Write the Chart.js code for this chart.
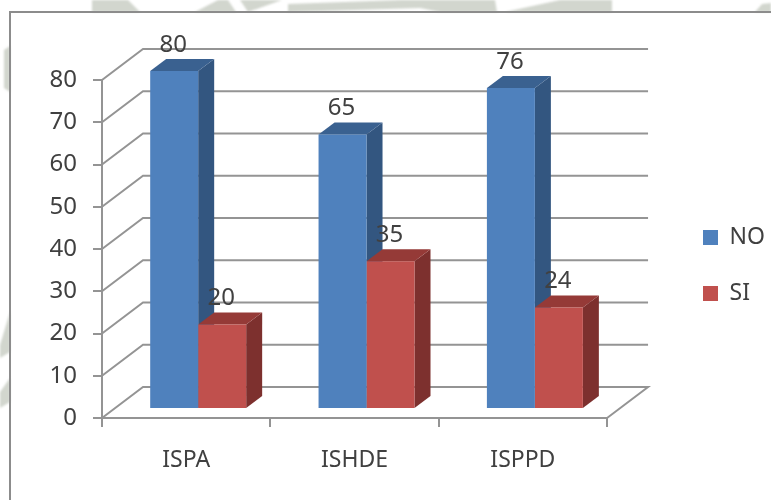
<!DOCTYPE html>
<html>
<head>
<meta charset="utf-8">
<script src="https://cdn.jsdelivr.net/npm/chart.js@4"></script>
<style>
  html, body { margin: 0; padding: 0; background: #fff; overflow: hidden; }
  #wrap { position: relative; width: 771px; height: 500px; }
  #paper { position: absolute; left: 0; top: 0; }
  #paper g { filter: blur(1px); }
  #holder { position: absolute; left: 0; top: 0; width: 771px; height: 500px; filter: blur(0.45px); }
</style>
</head>
<body>
<div id="wrap">
  <!-- faded watermark and frame of the scanned page -->
  <svg id="paper" width="771" height="500">
    <g fill="#d2d6ce">
      <polygon points="92,0 128,0 140,12 92,12"/>
      <polygon points="195,12 218,0 228,0 236,12"/>
      <polygon points="240,0 282,0 248,12"/>
      <polygon points="288,4 400,0 495,0 497,12 440,12 420,8 288,12"/>
      <polygon points="505,12 560,0 612,0 612,12"/>
      <polygon points="755,12 762,4 771,3 771,12"/>
      <polygon points="4,50 10,46 10,92 4,88"/>
      <polygon points="0,345 10,312 10,352 0,358"/>
      <polygon points="0,392 10,378 10,402 0,408"/>
    </g>
    <path d="M10 500 V12 H771" fill="none" stroke="#8c8c8c" stroke-width="2"/>
  </svg>
  <div id="holder"><canvas id="myChart" width="771" height="500"></canvas></div>
</div>
<script>
const categories = ["ISPA", "ISHDE", "ISPPD"];
const noValues = [80, 65, 76];
const siValues = [20, 35, 24];
const yTicks = [0, 10, 20, 30, 40, 50, 60, 70, 80];

const frontColors = ["#4f81bd", "#c0504d"];
const topColors = ["#3a6190", "#953a37"];
const sideColors = ["#335680", "#7d302e"];
const axisColor = "#949494";
const textColor = "#404040";

// 3d look: wall depth and how far the bars sit behind the front plane
const wallDx = 41, wallDy = -31;
const barDx = 12, barDy = -9;
const depthDx = 16, depthDy = -12;

const wall3d = {
  id: "wall3d",
  afterLayout(chart) {
    // move the legend to where the reference has it
    const lg = chart.legend;
    lg.left = 670;
    lg.right = 771;
    lg.top = 193;
    lg.bottom = 500;
  },
  beforeDatasetsDraw(chart) {
    const { ctx, scales: { x, y } } = chart;
    ctx.save();
    ctx.strokeStyle = axisColor;
    ctx.lineWidth = 2;
    yTicks.forEach((t) => {
      const py = y.getPixelForValue(t);
      ctx.beginPath();
      ctx.moveTo(x.left, py);
      ctx.lineTo(x.left + wallDx, py + wallDy);
      ctx.lineTo(x.right + wallDx, py + wallDy);
      if (t === 0) ctx.lineTo(x.right, py);
      ctx.stroke();
    });
    // depth faces go under every front face
    chart.data.datasets.forEach((ds, i) => {
      chart.getDatasetMeta(i).data.forEach((bar) => {
        const l = bar.x - bar.width / 2 + barDx;
        const r = bar.x + bar.width / 2 + barDx;
        const t = bar.y + barDy;
        const b = bar.base + barDy;
        ctx.fillStyle = sideColors[i];
        ctx.beginPath();
        ctx.moveTo(r, t);
        ctx.lineTo(r + depthDx, t + depthDy);
        ctx.lineTo(r + depthDx, b + depthDy);
        ctx.lineTo(r, b);
        ctx.closePath();
        ctx.fill();
        ctx.fillStyle = topColors[i];
        ctx.beginPath();
        ctx.moveTo(l, t);
        ctx.lineTo(l + depthDx, t + depthDy);
        ctx.lineTo(r + depthDx, t + depthDy);
        ctx.lineTo(r, t);
        ctx.closePath();
        ctx.fill();
      });
    });
    ctx.restore();
  },
  beforeDatasetDraw(chart) {
    chart.ctx.save();
    chart.ctx.translate(barDx, barDy);
  },
  afterDatasetDraw(chart) {
    chart.ctx.restore();
  },
  afterDatasetsDraw(chart) {
    const ctx = chart.ctx;
    ctx.save();
    ctx.font = "24px 'Noto Sans'";
    ctx.fillStyle = textColor;
    ctx.textAlign = "center";
    ctx.textBaseline = "middle";
    chart.data.datasets.forEach((ds, i) => {
      chart.getDatasetMeta(i).data.forEach((bar, j) => {
        ctx.fillText(ds.data[j], bar.x + barDx - 1, bar.y + barDy - 26);
      });
    });
    ctx.restore();
  },
};

new Chart(document.getElementById("myChart").getContext("2d"), {
  type: "bar",
  data: {
    labels: categories,
    datasets: [
      { label: "NO", data: noValues, backgroundColor: frontColors[0] },
      { label: "SI", data: siValues, backgroundColor: frontColors[1] },
    ],
  },
  options: {
    responsive: false,
    animation: false,
    datasets: { bar: { categoryPercentage: 0.57, barPercentage: 1 } },
    layout: { padding: { top: 80, right: 59, left: 0, bottom: 0 } },
    scales: {
      x: {
        afterFit(s) { s.height = 82; },
        grid: { drawOnChartArea: false, color: axisColor, lineWidth: 2, tickLength: 9 },
        border: { color: axisColor, width: 2 },
        ticks: { color: textColor, font: { family: "'Noto Sans'", size: 23 }, padding: 20, maxRotation: 0 },
      },
      y: {
        min: 0,
        max: 80,
        afterFit(s) { s.width = 102; },
        grid: { drawOnChartArea: false, color: axisColor, lineWidth: 2, tickLength: 9 },
        border: { color: axisColor, width: 2 },
        ticks: { color: textColor, stepSize: 10, font: { family: "'Noto Sans'", size: 24 }, padding: 16 },
      },
    },
    plugins: {
      tooltip: { enabled: false },
      legend: {
        position: "right",
        align: "start",
        labels: {
          boxWidth: 15,
          boxHeight: 15,
          padding: 33,
          color: textColor,
          font: { family: "'Noto Sans'", size: 23 },
        },
      },
    },
  },
  plugins: [wall3d],
});
</script>
</body>
</html>
